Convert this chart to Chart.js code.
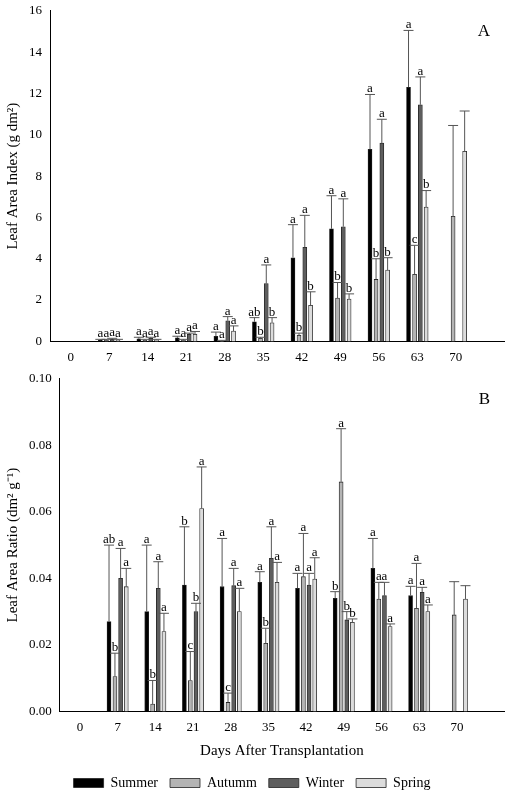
<!DOCTYPE html>
<html><head><meta charset="utf-8">
<script src="https://cdn.jsdelivr.net/npm/chart.js@4"></script>
<style>body{margin:0;background:#fff}#a{position:absolute;left:0;top:0}#b{position:absolute;left:0;top:368px}</style>
</head><body>
<div id="a" style="width:512px;height:368px"><canvas id="ca"></canvas></div>
<div id="b" style="width:512px;height:432px"><canvas id="cb"></canvas></div>
<script>
const days=[7,14,21,28,35,42,49,56,63,70];
const seriesNames=['Summer','Autumm','Winter','Spring'];
// Panel A: Leaf Area Index
const laiSummer=[0.05,0.12,0.17,0.25,0.95,4.05,5.45,9.3,12.3,null];
const laiAutumn=[0.05,0.05,0.05,0.02,0.15,0.3,2.1,3.0,3.25,6.05];
const laiWinter=[0.1,0.15,0.35,1.0,2.8,4.55,5.55,9.6,11.45,null];
const laiSpring=[0.08,0.08,0.35,0.5,0.9,1.75,2.05,3.45,6.5,9.2];
const laiSummerTop=[0.1,0.2,0.25,0.45,1.15,5.65,7.05,11.95,15.05,null];
const laiAutumnTop=[0.1,0.1,0.1,0.05,0.2,0.4,2.85,4.0,4.65,10.45];
const laiWinterTop=[0.15,0.2,0.4,1.2,3.7,6.1,6.9,10.75,12.8,null];
const laiSpringTop=[0.1,0.1,0.48,0.75,1.15,2.4,2.3,4.05,7.3,11.15];
const laiSummerLet=['a','a','a','a','ab','a','a','a','a',''];
const laiAutumnLet=['a','a','a','a','b','b','b','b','c',''];
const laiWinterLet=['a','a','a','a','a','a','a','a','a',''];
const laiSpringLet=['a','a','a','a','b','b','b','b','b',''];
// Panel B: Leaf Area Ratio
const larSummer=[0.027,0.030,0.038,0.0375,0.0388,0.037,0.034,0.043,0.0348,null];
const larAutumn=[0.0105,0.0022,0.0093,0.0027,0.0205,0.0405,0.069,0.0338,0.031,0.029];
const larWinter=[0.040,0.037,0.030,0.0378,0.046,0.038,0.0275,0.0348,0.0358,null];
const larSpring=[0.0375,0.024,0.061,0.030,0.0388,0.0398,0.0268,0.0255,0.030,0.0338];
const larSummerTop=[0.050,0.050,0.0555,0.052,0.042,0.0415,0.036,0.052,0.0376,null];
const larAutumnTop=[0.0175,0.0093,0.018,0.0055,0.025,0.0535,0.085,0.0388,0.0445,0.039];
const larWinterTop=[0.049,0.045,0.0325,0.043,0.0555,0.0415,0.030,0.0388,0.0373,null];
const larSpringTop=[0.043,0.0295,0.0735,0.037,0.0448,0.0462,0.0278,0.0263,0.032,0.0378];
const larSummerLet=['ab','a','b','a','a','a','b','a','a',''];
const larAutumnLet=['b','b','c','c','b','a','a','a','a',''];
const larWinterLet=['a','a','b','a','a','a','b','a','a',''];
const larSpringLet=['a','a','a','a','a','a','b','a','a',''];

const colors=['#000000','#b4b4b4','#5e5e5e','#dcdcdc'];
const offsets=[-1.6,-0.5,0.55,1.6];
const FONT='"Liberation Serif", "Times New Roman", serif';

function mkDatasets(vals,tops,lets){
  return vals.map((v,i)=>({
    label:seriesNames[i],
    data:days.map((d,j)=>({x:d+offsets[i],y:v[j],top:tops[i][j],let:lets[i][j]})).filter(p=>p.y!==null),
    backgroundColor:colors[i],borderColor:'#222',borderWidth:0.8,
    barThickness:4,grouped:false
  }));
}
const errPlugin={id:'err',afterDatasetsDraw(c,args,opts){
  const ctx=c.ctx,x=c.scales.x,y=c.scales.y;
  ctx.save();
  c.data.datasets.forEach((ds,i)=>{
    ds.data.forEach(p=>{
      if(p.top==null)return;
      const px=x.getPixelForValue(p.x),py=y.getPixelForValue(p.y),pt=y.getPixelForValue(p.top);
      ctx.strokeStyle='#555';ctx.lineWidth=1;
      ctx.beginPath();ctx.moveTo(px,py);ctx.lineTo(px,pt);ctx.moveTo(px-5,pt);ctx.lineTo(px+5,pt);ctx.stroke();
      if(p.let){ctx.fillStyle='#000';ctx.font='13px '+FONT;ctx.textAlign='center';ctx.textBaseline='bottom';ctx.fillText(p.let,px,pt+1);}
    });
  });
  ctx.font='17px '+FONT;ctx.fillStyle='#000';ctx.textAlign='right';ctx.textBaseline='top';
  ctx.fillText(opts.tag,c.chartArea.right-14,c.chartArea.top+12);
  ctx.restore();
}};
function opts(ymax,step,title,dec,legend,xtitle){
  return {responsive:true,maintainAspectRatio:false,animation:false,
    layout:{padding:{top:8,right:8,left:0,bottom:legend?0:0}},
    plugins:{legend:legend?{display:true,position:'bottom',labels:{color:'#000',font:{family:FONT,size:14},boxWidth:30,boxHeight:9,padding:12}}:{display:false},
      tooltip:{enabled:false},err:{tag:legend?'B':'A'}},
    scales:{
      x:{type:'linear',min:0,max:75,ticks:{stepSize:7,color:'#000',font:{family:FONT,size:13},callback:v=>v%7===0&&v<=70?v:''},
        afterBuildTicks:a=>{a.ticks=[0,...days].map(v=>({value:v}));},
        grid:{display:false,drawTicks:true,tickLength:5},border:{color:'#000'},
        title:{display:!!xtitle,text:xtitle,color:'#000',font:{family:FONT,size:15}}},
      y:{min:0,max:ymax,ticks:{stepSize:step,color:'#000',font:{family:FONT,size:13},callback:v=>v.toFixed(dec)},
        grid:{display:false,tickLength:5},border:{color:'#000'},
        title:{display:true,text:title,color:'#000',font:{family:FONT,size:15}}}
    }};
}
new Chart(document.getElementById('ca'),{type:'bar',
  data:{datasets:mkDatasets([laiSummer,laiAutumn,laiWinter,laiSpring],[laiSummerTop,laiAutumnTop,laiWinterTop,laiSpringTop],[laiSummerLet,laiAutumnLet,laiWinterLet,laiSpringLet])},
  options:opts(16,2,'Leaf Area Index (g dm²)',0,false,''),plugins:[errPlugin]});
new Chart(document.getElementById('cb'),{type:'bar',
  data:{datasets:mkDatasets([larSummer,larAutumn,larWinter,larSpring],[larSummerTop,larAutumnTop,larWinterTop,larSpringTop],[larSummerLet,larAutumnLet,larWinterLet,larSpringLet])},
  options:opts(0.10,0.02,'Leaf Area Ratio (dm² g⁻¹)',2,true,'Days After Transplantation'),plugins:[errPlugin]});
</script></body></html>
